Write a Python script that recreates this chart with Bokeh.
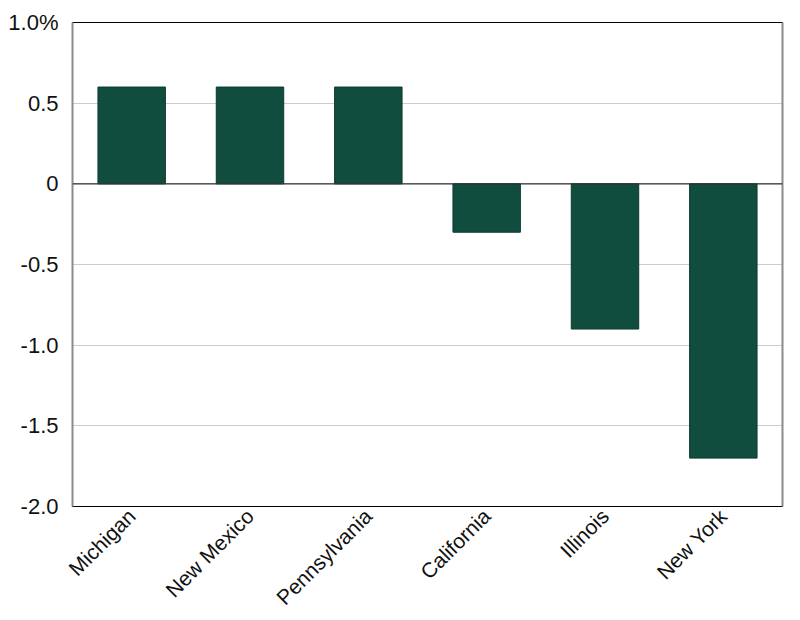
from math import pi

from bokeh.embed import file_html
from bokeh.models import ColumnDataSource, FixedTicker, LinearAxis, Span
from bokeh.plotting import figure
from bokeh.resources import INLINE

# Percentage change by state
states = ["Michigan", "New Mexico", "Pennsylvania", "California", "Illinois", "New York"]
change = [0.6, 0.6, 0.6, -0.3, -0.9, -1.7]

y_ticks = [-2.0, -1.5, -1.0, -0.5, 0, 0.5, 1.0]
y_tick_labels = ["-2.0", "-1.5", "-1.0", "-0.5", "0", "0.5", "1.0%"]

FONT = "Liberation Sans"
BAR = "#114d3f"

source = ColumnDataSource(data=dict(state=states, change=change))

p = figure(
    x_range=states,
    y_range=(-2.0, 1.0),
    width=800,
    height=620,
    output_backend="svg",
    toolbar_location=None,
    min_border_left=72,
    min_border_right=18,
    min_border_top=22,
    min_border_bottom=114,
)

p.vbar(x="state", top="change", bottom=0, width=0.57, source=source,
       fill_color=BAR, line_color="#0d3a30", line_width=1)

# Zero baseline
p.add_layout(Span(location=0, dimension="width", line_color="#333333", line_width=1.2))

# Frame: black top/bottom, gray sides
p.outline_line_color = "black"
p.outline_line_width = 1

p.yaxis.ticker = FixedTicker(ticks=y_ticks)
p.yaxis.major_label_overrides = {t: l for t, l in zip(y_ticks, y_tick_labels)}
p.yaxis.major_label_text_font = FONT
p.yaxis.major_label_text_font_size = "22px"
p.yaxis.major_label_text_color = "#111111"
p.yaxis.major_tick_line_color = None
p.yaxis.minor_tick_line_color = None
p.yaxis.axis_line_color = "#8a8a8a"
p.yaxis.axis_line_width = 2
p.yaxis.major_label_standoff = 8

right_axis = LinearAxis(ticker=FixedTicker(ticks=[]), major_label_text_font_size="0px",
                        axis_line_color="#8a8a8a", axis_line_width=2,
                        major_tick_line_color=None, minor_tick_line_color=None,
                        major_tick_out=0)
p.add_layout(right_axis, "right")

p.xaxis.major_label_orientation = pi / 4
p.xaxis.major_label_text_font = FONT
p.xaxis.major_label_text_font_size = "21px"
p.xaxis.major_label_text_color = "#111111"
p.xaxis.major_tick_line_color = None
p.xaxis.major_tick_out = 0
p.xaxis.axis_line_color = "black"
p.xaxis.major_label_standoff = 6

p.xgrid.grid_line_color = None
p.ygrid.grid_line_color = "#cccccc"
p.ygrid.grid_line_width = 1

p.background_fill_color = "white"
p.border_fill_color = "white"

open("out.html", "w").write(file_html(p, INLINE))
